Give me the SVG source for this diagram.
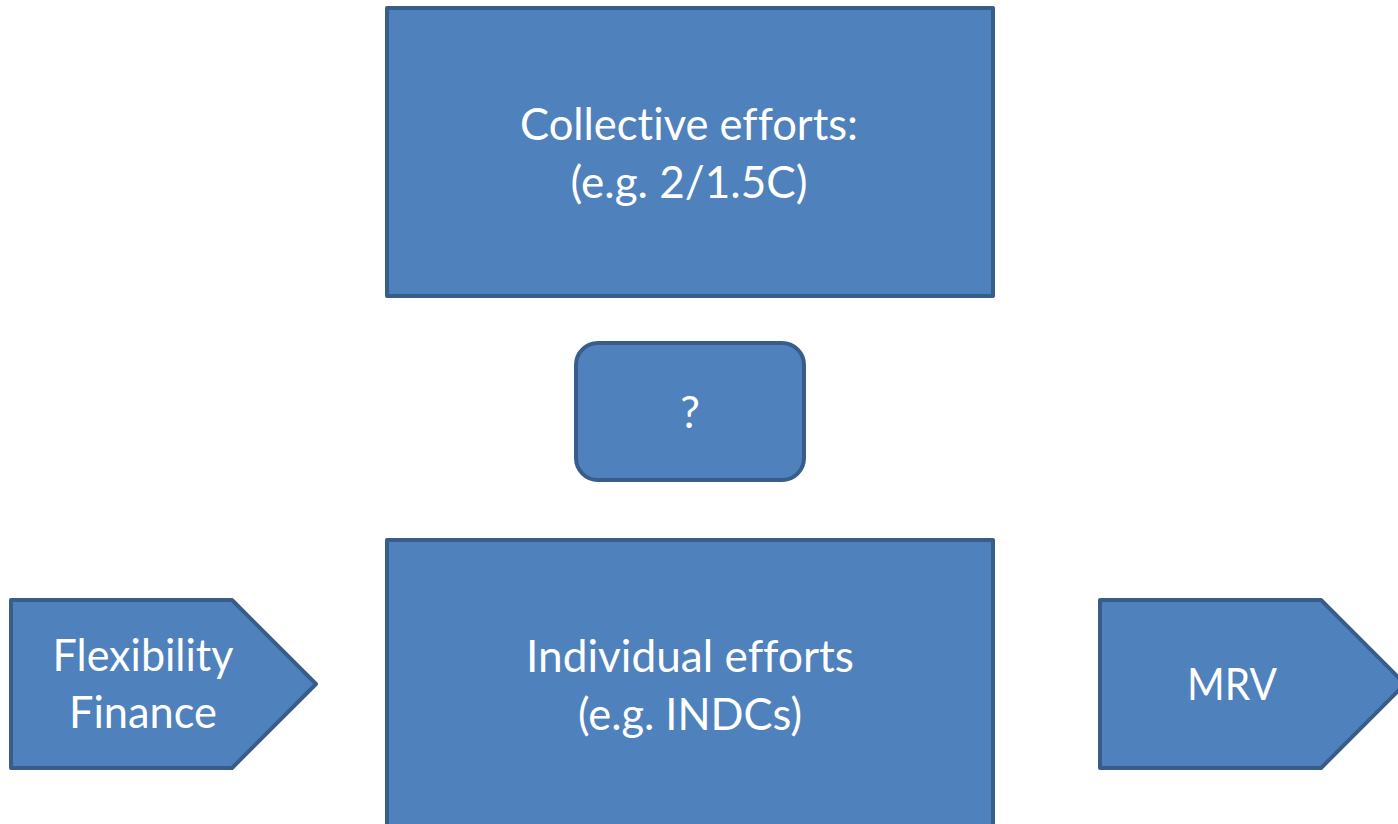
<svg xmlns="http://www.w3.org/2000/svg" width="1398" height="824" viewBox="0 0 1398 824">
<style>
.shape{fill:#4f81bd;stroke:#385d8a;stroke-width:4;stroke-linejoin:round}
.lbl{fill:#ffffff;font-family:Lato,"Open Sans","Liberation Sans",sans-serif;font-size:44px;text-anchor:middle;font-variant-ligatures:none;font-feature-settings:"liga" 0,"dlig" 0}
</style>
<rect width="1398" height="824" fill="#ffffff"/>
<g id="collective">
<rect class="shape" x="387" y="8" width="606" height="288"/>
<text class="lbl" x="689" y="140" textLength="338" lengthAdjust="spacingAndGlyphs">Collective efforts:</text>
<text class="lbl" x="689" y="198" textLength="237" lengthAdjust="spacingAndGlyphs">(e.g. 2/1.5C)</text>
</g>
<g id="question">
<rect class="shape" x="576" y="343" width="228" height="137" rx="22" ry="22"/>
<text class="lbl" x="690" y="428">?</text>
</g>
<g id="individual">
<rect class="shape" x="387" y="540" width="606" height="300"/>
<text class="lbl" x="690" y="672" textLength="328" lengthAdjust="spacingAndGlyphs">Individual efforts</text>
<text class="lbl" x="690" y="730" textLength="224" lengthAdjust="spacingAndGlyphs">(e.g. INDCs)</text>
</g>
<g id="flexibility">
<polygon class="shape" points="11,600 232,600 316,684 232,768 11,768"/>
<text class="lbl" x="143" y="671" textLength="181" lengthAdjust="spacingAndGlyphs">Flexibility</text>
<text class="lbl" x="143" y="728" textLength="148" lengthAdjust="spacingAndGlyphs">Finance</text>
</g>
<g id="mrv">
<polygon class="shape" points="1100,600 1321,600 1405,684 1321,768 1100,768"/>
<text class="lbl" x="1232" y="700" textLength="90" lengthAdjust="spacingAndGlyphs">MRV</text>
</g>
<g id="connectors"></g>
</svg>
